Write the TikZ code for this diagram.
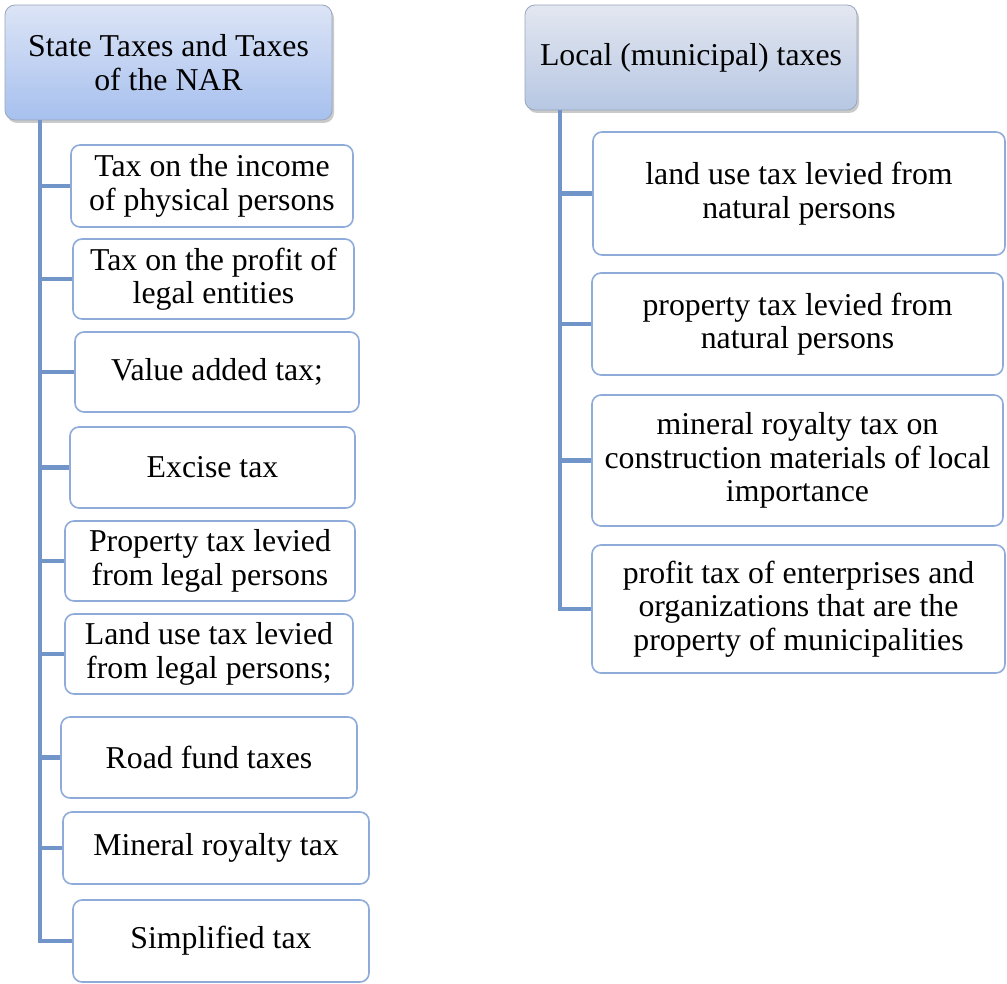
\documentclass[tikz,border=0pt]{standalone}
\usepackage{fontspec}
\setmainfont{Liberation Serif}
\usetikzlibrary{shadows}
\definecolor{connc}{HTML}{7194C9}
\definecolor{boxline}{HTML}{8EABD9}
\definecolor{hOneTop}{HTML}{DCE4F6}
\definecolor{hOneBot}{HTML}{A7C0EE}
\definecolor{hTwoTop}{HTML}{E3E7F0}
\definecolor{hTwoBot}{HTML}{B7C7E3}
\definecolor{hline}{HTML}{9AA6BC}
\tikzset{
  txt/.style={align=center, inner sep=0pt, font=\fontsize{31.8}{33.5}\selectfont},
  childbox/.style={txt, draw=boxline, line width=1.6pt, fill=white, rounded corners=9pt},
  headbox/.style={txt, draw=hline, line width=0.8pt, rounded corners=10pt,
    drop shadow={shadow xshift=2pt, shadow yshift=-3pt, opacity=0.35, fill=black!60}},
  conn/.style={draw=connc, line width=4.5pt}
}
\begin{document}
\begin{tikzpicture}[x=1pt,y=-1pt]
\useasboundingbox (0,0) rectangle (1007,984);
% headers
\node[headbox, top color=hOneTop, bottom color=hOneBot, minimum width=327pt, minimum height=115pt] (h1) at (168.5,62.5) {State Taxes and Taxes\\of the NAR};
\node[headbox, top color=hTwoTop, bottom color=hTwoBot, minimum width=332pt, minimum height=105pt] (h2) at (691,57.5) {Local (municipal) taxes};
% left children
\node[childbox, minimum width=282pt, minimum height=82pt] (b1) at (212,186) {Tax on the income\\of physical persons};
\node[childbox, minimum width=281pt, minimum height=80pt] (b2) at (213.5,279) {Tax on the profit of\\legal entities};
\node[childbox, minimum width=284pt, minimum height=80pt] (b3) at (217,372) {Value added tax;};
\node[childbox, minimum width=285pt, minimum height=81pt] (b4) at (212.5,467.5) {Excise tax};
\node[childbox, minimum width=290pt, minimum height=80pt] (b5) at (210,561) {Property tax levied\\from legal persons};
\node[childbox, minimum width=288pt, minimum height=80pt] (b6) at (209,654) {Land use tax levied\\from legal persons;};
\node[childbox, minimum width=296pt, minimum height=81pt] (b7) at (209,757.5) {Road fund taxes};
\node[childbox, minimum width=306pt, minimum height=72pt] (b8) at (216,848) {Mineral royalty tax};
\node[childbox, minimum width=296pt, minimum height=82pt] (b9) at (221,941) {Simplified tax};
% right children
\node[childbox, minimum width=412pt, minimum height=123pt] (r1) at (799,193.5) {land use tax levied from\\natural persons};
\node[childbox, minimum width=411pt, minimum height=102pt] (r2) at (797.5,324) {property tax levied from\\natural persons};
\node[childbox, minimum width=411pt, minimum height=131pt] (r3) at (797.5,460.5) {mineral royalty tax on\\construction materials of local\\importance};
\node[childbox, minimum width=413pt, minimum height=128pt] (r4) at (798.5,609) {profit tax of enterprises and\\organizations that are the\\property of municipalities};
% connectors
\coordinate (L) at (40,0);
\coordinate (R) at (560,0);
\foreach \b in {b1,b2,b3,b4,b5,b6,b7,b8,b9}{
  \draw[conn] (h1.south -| L) |- (\b.west);
}
\foreach \b in {r1,r2,r3,r4}{
  \draw[conn] (h2.south -| R) |- (\b.west);
}
\end{tikzpicture}
\end{document}
